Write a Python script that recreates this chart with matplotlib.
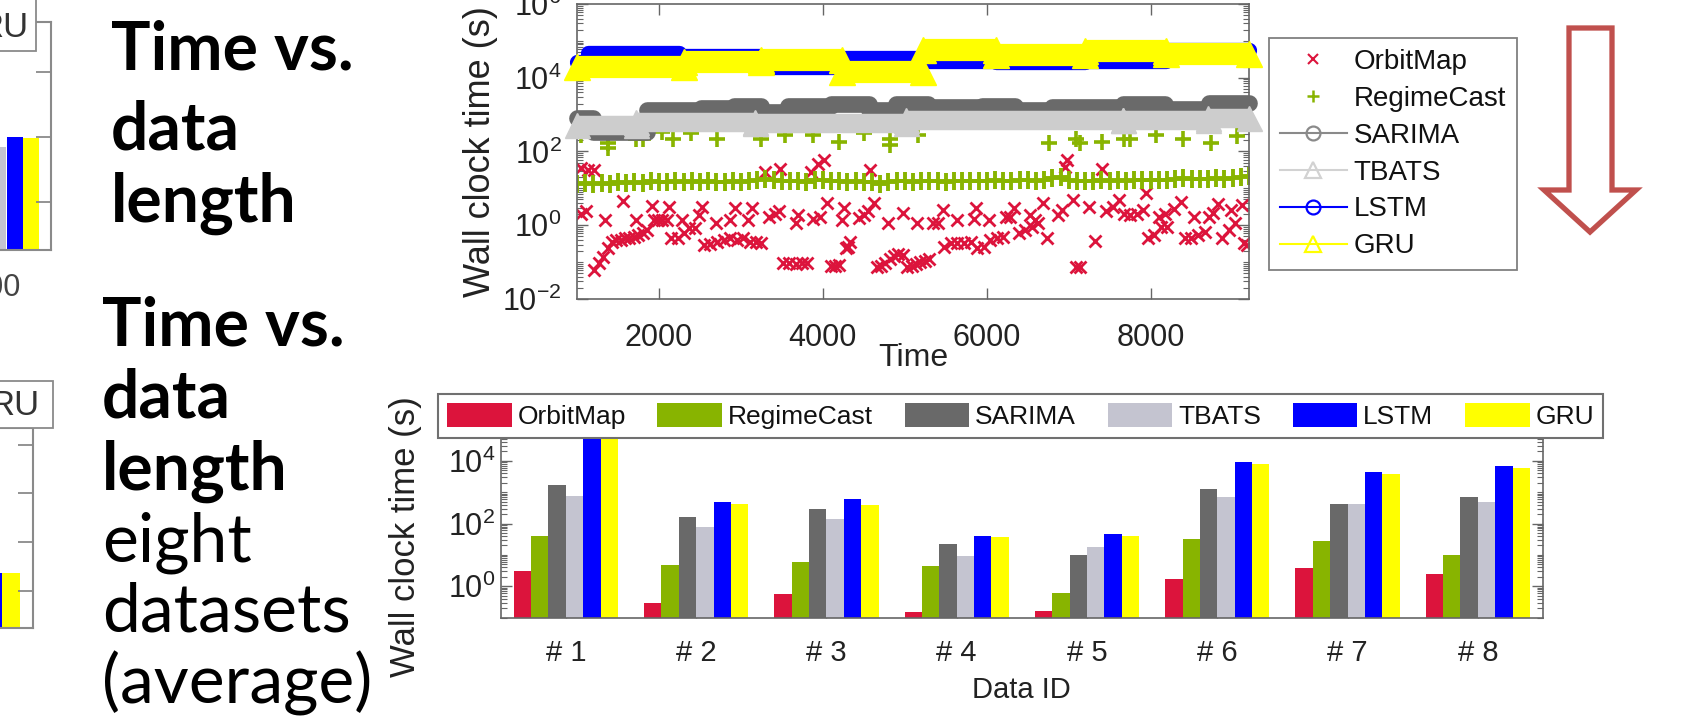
import numpy as np
import matplotlib
matplotlib.use('Agg')
import matplotlib.pyplot as plt
from matplotlib import font_manager
from matplotlib.lines import Line2D
from matplotlib.patches import Rectangle, Polygon
from matplotlib.ticker import LogLocator, NullFormatter, NullLocator

# ------------------------------------------------------------------ data
methods = ['OrbitMap', 'RegimeCast', 'SARIMA', 'TBATS', 'LSTM', 'GRU']

# --- top chart: wall clock time vs. data length (Time)
orbit_time = [1053, 1133, 1213, 1053, 1107, 1213, 1267, 1320, 1347, 1374, 1427, 1480, 1534, 1560,
              1587, 1640, 1694, 1720, 1747, 1800, 1854, 1918, 1934, 1987, 2041, 2094, 2121, 2147,
              2228, 2281, 2308, 2361, 2441, 2494, 2521, 2548, 2628, 2697, 2708, 2788, 2868, 2868,
              2932, 2948, 3028, 3092, 3108, 3135, 3188, 3242, 3295, 3348, 3412, 3466, 3482, 3508,
              3588, 3669, 3669, 3695, 3749, 3802, 3855, 3882, 3935, 3962, 4015, 4053, 4095, 4149,
              4191, 4229, 4256, 4282, 4309, 4336, 4442, 4496, 4549, 4576, 4629, 4656, 4709, 4763,
              4789, 4816, 4869, 4923, 4976, 4976, 5029, 5083, 5136, 5152, 5190, 5243, 5296, 5350,
              5403, 5472, 5483, 5563, 5643, 5643, 5723, 5803, 5846, 5867, 5883, 5963, 6027, 6043,
              6124, 6204, 6230, 6284, 6337, 6390, 6470, 6524, 6551, 6593, 6630, 6684, 6737, 6871,
              6913, 6951, 6977, 7057, 7084, 7137, 7244, 7324, 7404, 7458, 7538, 7618, 7671, 7751,
              7831, 7911, 7938, 7964, 8045, 8098, 8125, 8178, 8205, 8285, 8376, 8418, 8498, 8525,
              8579, 8659, 8712, 8765, 8819, 8872, 8952, 8979, 9032, 9112, 9139, 9180]
orbit_value = [35, 32, 32, 2.0, 2.5, 0.062, 0.097, 0.14, 1.38, 0.24, 0.36, 0.40, 0.41, 4.6,
               0.44, 0.46, 0.48, 1.4, 0.54, 0.60, 0.74, 3.3, 1.4, 1.4, 1.4, 1.4, 3.1, 0.44,
               0.46, 1.4, 0.60, 0.83, 0.83, 1.9, 3.1, 0.29, 0.31, 1.16, 0.35, 0.40, 1.4, 0.44,
               2.9, 0.40, 0.44, 1.4, 0.36, 2.9, 0.35, 0.34, 27, 1.7, 2.0, 2.5, 33, 0.093,
               0.095, 0.09, 1.16, 1.9, 0.097, 0.094, 27, 1.5, 47, 1.7, 59, 3.9, 0.08, 0.08,
               0.085, 1.38, 2.9, 0.24, 0.26, 0.36, 1.6, 1.9, 2.5, 32, 4.0, 0.076, 0.08, 0.095,
               1.12, 0.12, 0.15, 0.17, 0.16, 2.2, 0.076, 0.08, 0.09, 1.12, 0.10, 0.11, 0.12, 1.16,
               1.16, 2.6, 0.26, 0.32, 0.33, 1.38, 0.34, 0.36, 1.5, 2.9, 0.24, 0.26, 1.4, 0.40,
               0.45, 0.48, 1.7, 1.7, 2.9, 0.60, 0.74, 1.9, 0.91, 1.38, 1.12, 3.9, 0.45, 1.9,
               2.6, 39, 59, 4.8, 0.076, 0.076, 3.1, 0.38, 33, 2.5, 3.1, 4.8, 2.0, 1.9,
               2.0, 2.6, 7.6, 0.45, 0.54, 1.7, 0.91, 2.0, 0.91, 2.7, 4.4, 0.46, 0.46, 1.7,
               0.54, 0.66, 1.7, 2.2, 3.7, 0.45, 0.74, 2.6, 1.12, 3.5, 0.32, 0.29]

rc_time = list(range(1000, 9201, 100))
rc_band = [13, 14, 13.5, 14, 13.5, 14.5, 14, 15, 14, 15.5,
           15, 14.5, 15.5, 15, 16, 15, 15.5, 14.5, 15, 16,
           15, 16, 17, 18, 16.5, 16, 15.5, 16, 15, 16.5,
           17, 15.5, 16, 15, 15.5, 14.5, 15, 13.5, 15, 16,
           15.5, 15, 16, 15.5, 16, 15, 15.5, 16, 15.5, 16,
           15.5, 16.5, 16, 15.5, 16.5, 17, 16, 17, 19, 20,
           17, 15.5, 16, 15.5, 16.5, 16, 16.5, 16, 17, 16.5,
           17, 16.5, 17, 18, 19, 18, 17.5, 18, 19, 18.5,
           19, 20, 21]
rc_out_time = [1053, 1374, 1374, 1720, 1801, 2041, 2174, 2388, 2708, 3242, 3535, 3882, 4202, 4496,
               4816, 4816, 5163, 6764, 7084, 7137, 7404, 7671, 7751, 8071, 8392, 8739, 9059]
rc_out_value = [277, 166, 121, 223, 223, 340, 223, 309, 223, 223, 277, 277, 183, 309,
                223, 148, 277, 172, 223, 172, 183, 223, 223, 277, 223, 172, 260]

sarima_start = [1000, 1200, 1850, 2515, 2910, 3240, 3570, 4100, 4560, 4890, 5280, 5940, 6340, 6800, 7660, 8180, 8710]
sarima_end = [1200, 1850, 2515, 2910, 3240, 3570, 4100, 4560, 4890, 5280, 5940, 6340, 6800, 7660, 8180, 8710, 9200]
sarima_level = [800, 340, 1300, 1500, 1700, 1180, 1700, 1900, 1300, 1900, 1600, 1700, 1300, 1600, 1900, 1450, 2100]

tbats_start = [1000, 1725, 3175, 5020, 7660, 8700]
tbats_end = [1725, 3175, 5020, 7660, 8700, 9200]
tbats_level = [520, 650, 590, 700, 720, 800]

lstm_start = [1000, 1130, 2250, 3250, 4230, 5220, 6110, 7200, 8190]
lstm_end = [1130, 2250, 3250, 4230, 5220, 6110, 7200, 8190, 9200]
lstm_level = [2.6e4, 4.7e4, 3.9e4, 2.0e4, 3.5e4, 2.8e4, 2.7e4, 2.9e4, 5.8e4]

gru_start = [1000, 2300, 3250, 4230, 5220, 6110, 7200, 8190]
gru_end = [2300, 3250, 4230, 5220, 6110, 7200, 8190, 9200]
gru_level = [2.0e4, 2.6e4, 3.0e4, 1.45e4, 5.6e4, 4.1e4, 5.3e4, 4.4e4]

time_ticks = [2000, 4000, 6000, 8000]

# --- bottom chart: average wall clock time on eight datasets
data_ids = ['# 1', '# 2', '# 3', '# 4', '# 5', '# 6', '# 7', '# 8']
orbitmap_avg = [3.0, 0.30, 0.57, 0.155, 0.16, 1.7, 3.96, 2.5]
regimecast_avg = [41, 4.9, 6.0, 4.5, 0.63, 33, 27, 10.3]
sarima_avg = [1700, 158, 285, 22.6, 9.6, 1270, 420, 690]
tbats_avg = [760, 79, 138, 9.1, 18, 720, 430, 475]
lstm_avg = [8.0e4, 500, 620, 39, 46, 9300, 4500, 6700]
gru_avg = [7.0e4, 410, 390, 36, 41, 8000, 3650, 6000]

# --- cut-off fragments of neighbouring slide charts (left edge)
frag1_idx = [0, 1, 2]
frag1_vals = [103, 113, 112]
frag1_ticks = [48, 113, 178]
frag2_idx = [0, 1]
frag2_vals = [55, 55]
frag2_ticks = [37, 86, 135, 183]

# slide text
block1 = [('Time vs.', 'bold'), ('data', 'bold'), ('length', 'bold')]
block2 = [('Time vs.', 'bold'), ('data', 'bold'), ('length', 'bold'),
          ('eight', 'normal'), ('datasets', 'normal'), ('(average)', 'normal')]

# ------------------------------------------------------------------ style
W, H, DPI = 1684, 722, 100
plt.rcParams['font.family'] = ['Liberation Sans', 'DejaVu Sans']
plt.rcParams['mathtext.fontset'] = 'custom'
plt.rcParams['mathtext.rm'] = 'Liberation Sans'
plt.rcParams['mathtext.it'] = 'Liberation Sans:italic'
plt.rcParams['mathtext.bf'] = 'Liberation Sans:bold'

installed = {f.name for f in font_manager.fontManager.ttflist}
NARROW = ['Liberation Sans Narrow', 'Liberation Sans'] if 'Liberation Sans Narrow' in installed else ['Liberation Sans']

C_ORBIT, C_RC, C_SAR, C_TB, C_LSTM, C_GRU = '#DC143C', '#88B400', '#6A6A6A', '#CDCDCD', '#0000FF', '#FFFF00'
bar_colors = ['#DC143C', '#88B400', '#696969', '#C4C4D0', '#0000FF', '#FFFF00']
SPINE = '#666666'
TXT = '#222222'

fig = plt.figure(figsize=(W / DPI, H / DPI), dpi=DPI)


def px_rect(x0, y0, x1, y1):
    return [x0 / W, 1 - y1 / H, (x1 - x0) / W, (y1 - y0) / H]


def style_spines(ax, color=SPINE, lw=1.2):
    for s in ax.spines.values():
        s.set_color(color)
        s.set_linewidth(lw)


# ------------------------------------------------------------------ top chart
ax1 = fig.add_axes(px_rect(577, 4, 1249, 299))
ax1.set_yscale('log')
ax1.plot(orbit_time, orbit_value, ls='none', marker='x', ms=8.5, mew=2.0, color=C_ORBIT, zorder=2)
ax1.plot(rc_time, rc_band, ls='none', marker='+', ms=13, mew=2.8, color=C_RC, zorder=2)
ax1.plot(rc_out_time, rc_out_value, ls='none', marker='+', ms=12, mew=2.6, color=C_RC, zorder=2)
for s, e, v in zip(sarima_start, sarima_end, sarima_level):
    ax1.plot([s, e], [v, v], color=C_SAR, lw=12, solid_capstyle='round', zorder=3, clip_on=False)
for s, e, v in zip(tbats_start, tbats_end, tbats_level):
    ax1.plot([s, e], [v, v], color=C_TB, lw=14, solid_capstyle='butt', marker='^', ms=18,
             mfc=C_TB, mec=C_TB, zorder=4, clip_on=False)
for s, e, v in zip(lstm_start, lstm_end, lstm_level):
    ax1.plot([s, e], [v, v], color=C_LSTM, lw=11, solid_capstyle='round', zorder=5, clip_on=False)
for s, e, v in zip(gru_start, gru_end, gru_level):
    ax1.plot([s, e], [v, v], color=C_GRU, lw=16, solid_capstyle='butt', marker='^', ms=19,
             mfc=C_GRU, mec=C_GRU, zorder=6, clip_on=False)

ax1.set_xlim(1000, 9200)
ax1.set_ylim(1e-2, 1e6)
ax1.set_xticks(time_ticks)
ax1.set_xticklabels([str(t) for t in time_ticks])
ax1.xaxis.set_minor_locator(NullLocator())
ax1.set_yticks([1e-2, 1e0, 1e2, 1e4, 1e6])
ax1.set_yticklabels([r'$10^{-2}$', r'$10^{0}$', r'$10^{2}$', r'$10^{4}$', r'$10^{6}$'])
ax1.yaxis.set_minor_locator(LogLocator(base=10, subs=np.arange(1, 10), numticks=60))
ax1.yaxis.set_minor_formatter(NullFormatter())
ax1.tick_params(which='major', direction='in', length=8, width=1.0, color=SPINE,
                labelcolor=TXT, top=True, right=True)
ax1.tick_params(which='minor', direction='in', length=4, width=0.8, color=SPINE, top=True, right=True)
ax1.tick_params(axis='x', labelsize=22, pad=17)
ax1.tick_params(axis='y', labelsize=22, pad=11)
style_spines(ax1)
ax1.set_xlabel('Time', fontsize=23, color=TXT)
ax1.xaxis.set_label_coords(0.5, -0.20)
ax1.xaxis.label.set_va('center')
ax1.set_ylabel('Wall clock time (s)', fontsize=26, color=TXT)
ax1.yaxis.set_label_coords(-0.143, 0.5)
ax1.yaxis.label.set_va('center')

top_handles = [
    Line2D([0], [0], color=C_ORBIT, marker='x', ls='none', ms=7, mew=1.5),
    Line2D([0], [0], color=C_RC, marker='+', ls='none', ms=9, mew=1.8),
    Line2D([0], [0], color='#8A8A8A', marker='o', mfc='none', ms=10, mew=1.6, lw=1.5),
    Line2D([0], [0], color='#D2D2D2', marker='^', mfc='none', ms=11, mew=1.6, lw=1.5),
    Line2D([0], [0], color=C_LSTM, marker='o', mfc='none', ms=10, mew=1.6, lw=1.5),
    Line2D([0], [0], color=C_GRU, marker='^', mfc='none', ms=11, mew=1.6, lw=1.5),
]
leg1 = ax1.legend(top_handles, methods, loc='upper left', bbox_to_anchor=(1269 / W, 1 - 38 / H),
                  bbox_transform=fig.transFigure, fontsize=20, frameon=True, fancybox=False,
                  edgecolor='#808080', framealpha=1, borderpad=0.4, labelspacing=0.39,
                  handlelength=2.4, handletextpad=0.25, borderaxespad=0)
leg1.get_frame().set_linewidth(1.3)
for t in leg1.get_texts():
    t.set_color('#111111')

# ------------------------------------------------------------------ bottom chart
ax2 = fig.add_axes(px_rect(500.7, 438, 1543, 617.7))
ax2.set_yscale('log')
xpos = np.arange(1, len(data_ids) + 1)
bw = 0.8 / 6
bar_series = [orbitmap_avg, regimecast_avg, sarima_avg, tbats_avg, lstm_avg, gru_avg]
for i, (vals, c) in enumerate(zip(bar_series, bar_colors)):
    ax2.bar(xpos + (i - 2.5) * bw, vals, width=bw, color=c, edgecolor='none', label=methods[i], zorder=2)
ax2.set_xlim(0.5, 8.5)
ax2.set_ylim(0.1, 5.3e4)
ax2.set_xticks(xpos)
ax2.set_xticklabels(data_ids)
ax2.xaxis.set_minor_locator(NullLocator())
ax2.set_yticks([1e0, 1e2, 1e4])
ax2.set_yticklabels([r'$10^{0}$', r'$10^{2}$', r'$10^{4}$'])
ax2.yaxis.set_minor_locator(LogLocator(base=10, subs=np.arange(1, 10), numticks=60))
ax2.yaxis.set_minor_formatter(NullFormatter())
ax2.tick_params(axis='y', which='major', direction='in', length=8, width=1.0, color=SPINE,
                left=True, right=True, labelsize=22, pad=4, labelcolor=TXT)
ax2.tick_params(axis='y', which='minor', direction='in', length=4, width=0.8, color=SPINE,
                left=True, right=True)
ax2.tick_params(axis='x', which='major', direction='in', length=6, width=1.0, color=SPINE,
                bottom=True, top=False, labelsize=21, pad=15, labelcolor=TXT)
style_spines(ax2)
ax2.set_xlabel('Data ID', fontsize=21, color=TXT)
ax2.xaxis.set_label_coords(0.5, -0.405)
ax2.xaxis.label.set_va('center')
ax2.set_ylabel('Wall clock time (s)', fontsize=25, color=TXT)
ax2.yaxis.set_label_coords((405 - 500.7) / 1042.3, 0.45)
ax2.yaxis.label.set_va('center')
leg2 = ax2.legend(loc='lower left', bbox_to_anchor=(438 / W, 1 - 438 / H, 1165 / W, 45 / H),
                  bbox_transform=fig.transFigure, mode='expand', ncol=6, fontsize=19,
                  handlelength=2.45, handleheight=0.98, handletextpad=0.22, borderpad=0.34,
                  borderaxespad=0, fancybox=False, edgecolor='#707070', framealpha=1,
                  columnspacing=0.9)
leg2.get_frame().set_linewidth(1.5)
leg2.set_zorder(10)
for t in leg2.get_texts():
    t.set_color('#111111')

# ------------------------------------------------------------------ left-edge fragments
f1 = fig.add_axes(px_rect(-300, 22, 51, 250))
f1.bar(frag1_idx, frag1_vals, width=0.95, color=['#C4C4D0', '#0000FF', '#FFFF00'], edgecolor='none')
f1.set_xlim(-18.1, 3.2)
f1.set_ylim(0, 228)
f1.set_xticks([])
f1.yaxis.tick_right()
f1.set_yticks(frag1_ticks)
f1.set_yticklabels([])
f1.tick_params(axis='y', direction='in', length=11, width=1.2, color='#808080')
style_spines(f1, '#8A8A8A', 1.5)

f2 = fig.add_axes(px_rect(-300, 428, 33, 628))
f2.bar(frag2_idx, frag2_vals, width=1.0, color=['#0000FF', '#FFFF00'], edgecolor='none')
f2.set_xlim(-16.28, 2.22)
f2.set_ylim(0, 200)
f2.set_xticks([])
f2.yaxis.tick_right()
f2.set_yticks(frag2_ticks)
f2.set_yticklabels([])
f2.tick_params(axis='y', direction='in', length=11, width=1.2, color='#808080')
style_spines(f2, '#8A8A8A', 1.5)

# ------------------------------------------------------------------ overlay (pixel coords)
ov = fig.add_axes([0, 0, 1, 1], zorder=20)
ov.set_xlim(0, W)
ov.set_ylim(H, 0)
ov.axis('off')
ov.patch.set_alpha(0)
ov.add_patch(Rectangle((-10, -10), 46, 61, facecolor='white', edgecolor='#8A8A8A', lw=1.3))
ov.text(28, 37, 'RU', fontsize=25, family=NARROW, color='#333333', ha='right', va='baseline')
ov.add_patch(Rectangle((-10, 381), 63, 47, facecolor='white', edgecolor='#8A8A8A', lw=1.3))
ov.text(39, 415, 'RU', fontsize=25, family=NARROW, color='#333333', ha='right', va='baseline')
ov.text(21, 288, '8000', fontsize=22, family=NARROW, color='#444444', ha='right', va='center')

arrow = Polygon([(1569, 28), (1612, 28), (1612, 190), (1636, 190), (1590, 232), (1544, 190), (1569, 190)],
                closed=True, facecolor='white', edgecolor='#C0504D', lw=3.8, joinstyle='miter')
ov.add_patch(arrow)

# slide text, sized to the reference line widths
renderer = fig.canvas.get_renderer()


def fitted_size(s, target_px, **kw):
    t = fig.text(0, 0, s, fontsize=40, **kw)
    w = t.get_window_extent(renderer).width
    t.remove()
    return 40 * target_px / w


bold_size = fitted_size('Time vs.', 242, family='Lato', fontweight='bold')
reg_size = fitted_size('(average)', 270, family='Lato', fontweight='normal')

for (s, wgt), base in zip(block1, [70, 149, 222]):
    fig.text(111 / W, 1 - base / H, s, family='Lato', fontweight=wgt,
             fontsize=bold_size if wgt == 'bold' else reg_size, color='black', va='baseline')
for (s, wgt), base in zip(block2, [345, 418, 490, 561, 632, 703]):
    fig.text(102 / W, 1 - base / H, s, family='Lato', fontweight=wgt,
             fontsize=bold_size if wgt == 'bold' else reg_size, color='black', va='baseline')

fig.savefig('out.png', dpi=DPI)
